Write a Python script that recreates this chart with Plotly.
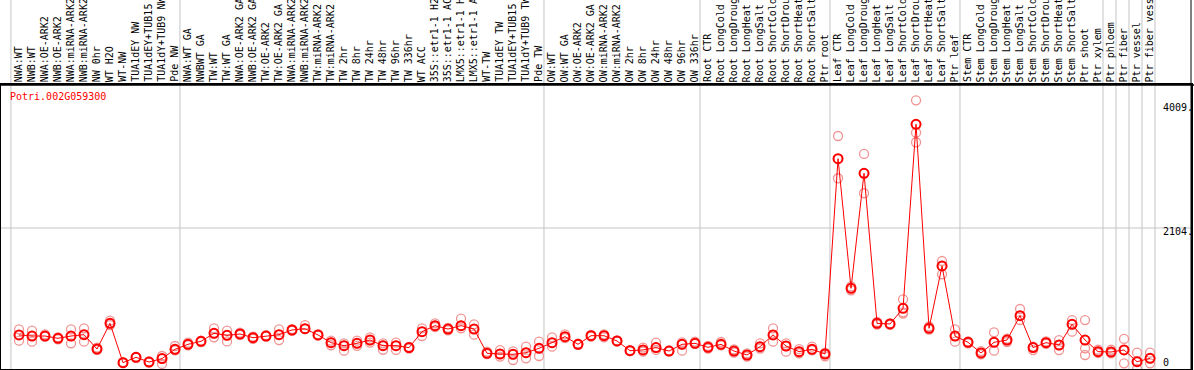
import plotly.graph_objects as go

title = "Potri.002G059300"

samples = [
    "NWA:WT", "NWB:WT", "NWA:OE-ARK2", "NWB:OE-ARK2", "NWA:miRNA-ARK2", "NWB:miRNA-ARK2",
    "NW 0hr", "WT H2O", "WT-NW", "TUA1dEY NW", "TUA1dEY+TUB15 NW", "TUA1dY+TUB9 NW", "Pde NW",
    "NWA:WT GA", "NWBWT GA", "TW:WT", "TW:WT GA", "NWA:OE-ARK2 GA", "NWB:OE-ARK2 GA",
    "TW:OE-ARK2", "TW:OE-ARK2 GA", "NWA:miRNA-ARK2 GA", "NWB:miRNA-ARK2 GA", "TW:miRNA-ARK2",
    "TW:miRNA-ARK2 GA", "TW 2hr", "TW 8hr", "TW 24hr", "TW 48hr", "TW 96hr", "TW 336hr",
    "WT ACC", "35S::etr1-1 H2O", "35S::etr1-1 ACC", "LMX5::etr1-1 H2O", "LMX5::etr1-1 ACC",
    "WT-TW", "TUA1dEY TW", "TUA1dEY+TUB15 TW", "TUA1dY+TUB9 TW", "Pde TW",
    "OW:WT", "OW:WT GA", "OW:OE-ARK2", "OW:OE-ARK2 GA", "OW:miRNA-ARK2", "OW:miRNA-ARK2 GA",
    "OW 2hr", "OW 8hr", "OW 24hr", "OW 48hr", "OW 96hr", "OW 336hr",
    "Root CTR", "Root LongCold", "Root LongDrought", "Root LongHeat", "Root LongSalt",
    "Root ShortCold", "Root ShortDrought", "Root ShortHeat", "Root ShortSalt", "Ptr root",
    "Leaf CTR", "Leaf LongCold", "Leaf LongDrought", "Leaf LongHeat", "Leaf LongSalt",
    "Leaf ShortCold", "Leaf ShortDrought", "Leaf ShortHeat", "Leaf ShortSalt", "Ptr leaf",
    "Stem CTR", "Stem LongCold", "Stem LongDrought", "Stem LongHeat", "Stem LongSalt",
    "Stem ShortCold", "Stem ShortDrought", "Stem ShortHeat", "Stem ShortSalt", "Ptr shoot",
    "Ptr xylem", "Ptr phloem", "Ptr fiber", "Ptr vessel", "Ptr fiber vessel",
]

mean_values = [
    508, 492, 492, 458, 492, 512, 298, 681, 95, 174, 104, 155, 294,
    368, 413, 532, 502, 522, 467, 492, 512, 582, 601, 508, 393, 348, 383, 432, 348, 348, 319,
    557, 647, 596, 647, 596, 234, 224, 219, 243, 308,
    393, 483, 368, 497, 497, 418, 273, 284, 319, 268, 368, 383,
    323, 368, 268, 209, 333, 508, 343, 259, 294, 224,
    3138, 1204, 2920, 681, 672, 905, 3651, 607, 1537, 492,
    398, 239, 398, 432, 795, 319, 393, 358, 667, 432,
    259, 254, 284, 109, 159,
]

rep1 = [
    592, 572, 517, 473, 592, 607, 319, 721, 104, 181, 113, 194, 343,
    393, 422, 607, 572, 542, 483, 504, 592, 595, 656, 518, 423, 383, 423, 473, 383, 393, 330,
    607, 681, 615, 751, 667, 258, 283, 264, 333, 408,
    472, 517, 378, 509, 517, 427, 282, 319, 393, 277, 398, 407,
    343, 403, 292, 234, 383, 607, 383, 296, 335, 243,
    3476, 1232, 3208, 701, 682, 1040, 4009, 634, 1611, 592,
    412, 268, 547, 451, 895, 335, 412, 432, 730, 730,
    287, 287, 448, 243, 243,
]

rep2 = [
    508, 492, 492, 458, 492, 512, 298, 681, 95, 174, 104, 155, 294,
    368, 413, 532, 502, 522, 467, 492, 512, 582, 601, 508, 393, 348, 383, 432, 348, 348, 319,
    557, 647, 596, 647, 596, 234, 224, 219, 243, 308,
    393, 483, 368, 497, 497, 418, 273, 284, 319, 268, 368, 383,
    323, 368, 268, 209, 333, 508, 343, 259, 294, 224,
    3138, 1204, 2920, 681, 672, 846, 3526, 607, 1537, 492,
    398, 239, 398, 432, 795, 319, 393, 358, 667, 308,
    259, 254, 284, 109, 159,
]

rep3 = [
    423, 407, 483, 442, 383, 407, 284, 656, 89, 166, 99, 75, 277,
    354, 403, 473, 412, 509, 451, 485, 432, 571, 595, 499, 354, 273, 345, 393, 287, 284, 306,
    492, 624, 576, 607, 512, 224, 184, 134, 159, 194,
    333, 460, 359, 485, 473, 407, 266, 259, 284, 263, 273, 374,
    306, 354, 243, 186, 306, 407, 258, 234, 277, 190,
    2846, 1174, 2622, 663, 658, 827, 3383, 586, 1412, 407,
    383, 219, 273, 403, 730, 282, 374, 283, 557, 209,
    239, 234, 84, 0, 84,
]

# indices of the last sample in each group (gridline drawn just after it)
group_ends = [-1, 12, 40, 52, 62, 72, 83, 84, 85, 86, 87]

y_ticks = [0, 2104, 4009]
y_tick_text = ["0", "2104.", "4009."]
y_tick_shift = [7, -4, -7]

FONT = "DejaVu Sans Mono"
x = list(range(len(samples)))

fig = go.Figure()

for reps in (rep1, rep2, rep3):
    fig.add_trace(go.Scatter(
        x=x, y=reps, mode="markers",
        marker=dict(symbol="circle-open", size=9, color="#f09494",
                    line=dict(width=1.3, color="#f09494")),
        hoverinfo="skip", showlegend=False,
    ))

fig.add_trace(go.Scatter(
    x=x, y=mean_values, mode="lines+markers",
    line=dict(color="#ff0000", width=1),
    marker=dict(symbol="circle-open", size=9, color="#ff0000",
                line=dict(width=2, color="#ff0000")),
    showlegend=False,
))

shapes = []
for g in group_ends:
    shapes.append(dict(type="line", xref="x", yref="paper", x0=g + 0.38, x1=g + 0.38,
                       y0=0, y1=1.31, line=dict(color="#c4c4c4", width=1), layer="below"))
shapes.append(dict(type="line", xref="paper", yref="y", x0=0, x1=1, y0=y_ticks[1], y1=y_ticks[1],
                   line=dict(color="#c4c4c4", width=1), layer="below"))
# right border extending through the label band
shapes.append(dict(type="line", xref="paper", yref="paper", x0=1, x1=1, y0=0, y1=1.31,
                   line=dict(color="black", width=1)))
shapes.append(dict(type="line", xref="paper", yref="paper", x0=0, x1=1.01, y0=1, y1=1,
                   line=dict(color="black", width=1.5)))

annotations = []
for i, s in enumerate(samples):
    annotations.append(dict(
        x=i - 0.05, xref="x", y=1, yref="paper", text=s, showarrow=False,
        textangle=-90, xanchor="center", yanchor="bottom", yshift=1,
        font=dict(family=FONT, size=10, color="black"),
    ))

annotations.append(dict(
    x=0.006, xref="paper", y=0.958, yref="paper", text=title, showarrow=False,
    xanchor="left", yanchor="middle", font=dict(family=FONT, size=10, color="#ff0000"),
))

for v, t, sh in zip(y_ticks, y_tick_text, y_tick_shift):
    annotations.append(dict(
        x=0.9745, xref="paper", y=v, yref="y", text=t, showarrow=False,
        xanchor="left", yanchor="middle", yshift=sh,
        font=dict(family=FONT, size=10, color="black"),
    ))

fig.update_layout(
    width=1194, height=370,
    margin=dict(l=1, r=3, t=85, b=1, pad=0),
    paper_bgcolor="white", plot_bgcolor="white",
    shapes=shapes, annotations=annotations,
    xaxis=dict(range=[-1.385, 90.15], showgrid=False, zeroline=False, showticklabels=False,
               ticks="", showline=True, mirror=True, linecolor="black", linewidth=1.5),
    yaxis=dict(range=[0, 4237], showgrid=False, zeroline=False, showticklabels=False,
               ticks="", showline=True, mirror=True, linecolor="black", linewidth=1.5),
    showlegend=False,
    hovermode=False,
)

fig.write_html(
    "out.html",
    config={"displayModeBar": False},
    post_script="document.body.style.margin='0px';document.body.style.overflow='hidden';",
)
